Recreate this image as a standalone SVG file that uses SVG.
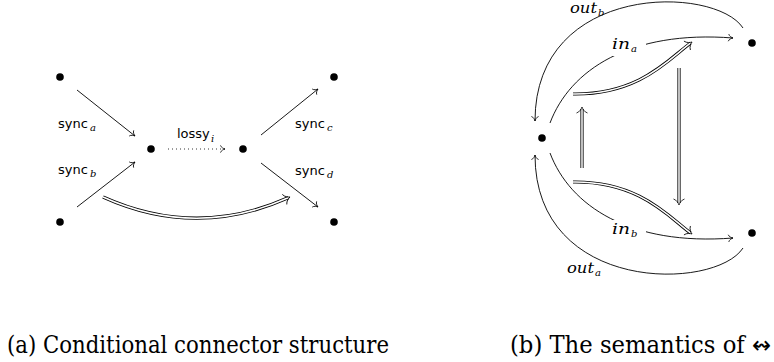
<svg xmlns="http://www.w3.org/2000/svg" width="774" height="362" viewBox="0 0 774 362">
<defs>
<style>
.ln{fill:none;stroke:#000;stroke-width:0.9}
.dot{fill:#000}
.sf{font-size:13px;fill:#000}
.mi{font-style:italic;font-size:15px;fill:#000}
.sub{font-style:italic;font-size:10px;fill:#000}
.cap{font-size:24px;fill:#000}
.dbo{fill:none;stroke:#000;stroke-width:3.2}
.dbi{fill:none;stroke:#fff;stroke-width:1.5}
</style>
<marker id="to" viewBox="-6 -5 8 10" refX="0" refY="0" markerWidth="8" markerHeight="10" orient="auto" markerUnits="userSpaceOnUse">
<path d="M-4.5,-3.6 C-4,-1.5 -1.2,-0.3 0,0 C-1.2,0.3 -4,1.5 -4.5,3.6" fill="none" stroke="#000" stroke-width="0.8"/>
</marker>
<marker id="dto" viewBox="-8 -7 10 14" refX="-2" refY="0" markerWidth="10" markerHeight="14" orient="auto" markerUnits="userSpaceOnUse">
<path d="M-6,-5.5 C-5,-2.2 -1.5,-0.5 0,0 C-1.5,0.5 -5,2.2 -6,5.5" fill="none" stroke="#000" stroke-width="0.8"/>
</marker>
</defs>

<!-- Left diagram (a) -->
<g id="connectors-a">
<line class="ln" x1="77" y1="90" x2="135" y2="136" marker-end="url(#to)"/>
<line class="ln" x1="77" y1="207" x2="135" y2="162" marker-end="url(#to)"/>
<line class="ln" x1="261" y1="135" x2="318" y2="89" marker-end="url(#to)"/>
<line class="ln" x1="261" y1="163" x2="318" y2="207" marker-end="url(#to)"/>
<line class="ln" x1="168" y1="149" x2="225" y2="149" stroke-dasharray="0.9 3.1" marker-end="url(#to)"/>
<path class="dbo" d="M103,197 Q196,239 288.2,197.8"/>
<path class="dbi" d="M103,197 Q196,239 288.2,197.8" marker-end="url(#dto)"/>
</g>
<g id="node-a1"><circle class="dot" cx="60" cy="77" r="3.8"/></g>
<g id="node-a2"><circle class="dot" cx="60" cy="222" r="3.8"/></g>
<g id="node-a3"><circle class="dot" cx="151" cy="149" r="3.8"/></g>
<g id="node-a4"><circle class="dot" cx="243" cy="149" r="3.8"/></g>
<g id="node-a5"><circle class="dot" cx="334" cy="77" r="3.8"/></g>
<g id="node-a6"><circle class="dot" cx="334" cy="222" r="3.8"/></g>
<g id="labels-a" font-family="DejaVu Sans, sans-serif">
<text class="sf" x="58" y="128">sync</text><text class="sub" font-family="DejaVu Serif, serif" x="90" y="131">a</text>
<text class="sf" x="58" y="174">sync</text><text class="sub" font-family="DejaVu Serif, serif" x="90" y="177">b</text>
<text class="sf" x="295" y="128">sync</text><text class="sub" font-family="DejaVu Serif, serif" x="327" y="131">c</text>
<text class="sf" x="295" y="175">sync</text><text class="sub" font-family="DejaVu Serif, serif" x="327" y="178">d</text>
<text class="sf" x="177" y="138">lossy</text><text class="sub" font-family="DejaVu Serif, serif" x="211" y="141.5">i</text>
</g>

<!-- Right diagram (b) -->
<g id="connectors-b">
<path class="ln" d="M743,28 C715,-15 535,-18 535,121" marker-end="url(#to)"/>
<path class="ln" d="M743,248 C715,291 535,294 535,155" marker-end="url(#to)"/>
<path class="ln" d="M550,123 C570,70 630,30 733,38" marker-end="url(#to)"/>
<path class="ln" d="M550,153 C570,206 630,246 733,238" marker-end="url(#to)"/>
<path class="dbo" d="M573,94 C640,95 670,58 690.4,43.2"/>
<path class="dbi" d="M573,94 C640,95 670,58 690.4,43.2" marker-end="url(#dto)"/>
<path class="dbo" d="M573,182 C640,181 670,218 690.4,232.8"/>
<path class="dbi" d="M573,182 C640,181 670,218 690.4,232.8" marker-end="url(#dto)"/>
<path class="dbo" d="M679,68 L679,203"/>
<path class="dbi" d="M679,68 L679,203" marker-end="url(#dto)"/>
<path class="dbo" d="M582,168 L582,109"/>
<path class="dbi" d="M582,168 L582,109" marker-end="url(#dto)"/>
</g>
<g id="node-b1"><circle class="dot" cx="542" cy="138" r="3.8"/></g>
<g id="node-b2"><circle class="dot" cx="752" cy="43" r="3.8"/></g>
<g id="node-b3"><circle class="dot" cx="752" cy="233" r="3.8"/></g>
<g id="labels-b" font-family="DejaVu Serif, serif">
<rect x="608" y="36" width="38" height="20" fill="#fff"/>
<text class="mi" x="612" y="49" textLength="18" lengthAdjust="spacingAndGlyphs">in</text><text class="sub" x="631" y="52">a</text>
<rect x="608" y="220" width="38" height="20" fill="#fff"/>
<text class="mi" x="612" y="234" textLength="18" lengthAdjust="spacingAndGlyphs">in</text><text class="sub" x="631" y="237">b</text>
<text class="mi" x="570" y="13" textLength="27" lengthAdjust="spacingAndGlyphs">out</text><text class="sub" x="598" y="16">b</text>
<text class="mi" x="567" y="273" textLength="27" lengthAdjust="spacingAndGlyphs">out</text><text class="sub" x="595" y="276">a</text>
</g>

<!-- Captions -->
<g id="captions" font-family="DejaVu Serif, serif">
<text class="cap" x="7" y="353" textLength="382" lengthAdjust="spacingAndGlyphs">(a) Conditional connector structure</text>
<text class="cap" x="510" y="353" textLength="261" lengthAdjust="spacingAndGlyphs">(b) The semantics of <tspan font-family="DejaVu Sans, sans-serif">↭</tspan></text>
</g>
</svg>
